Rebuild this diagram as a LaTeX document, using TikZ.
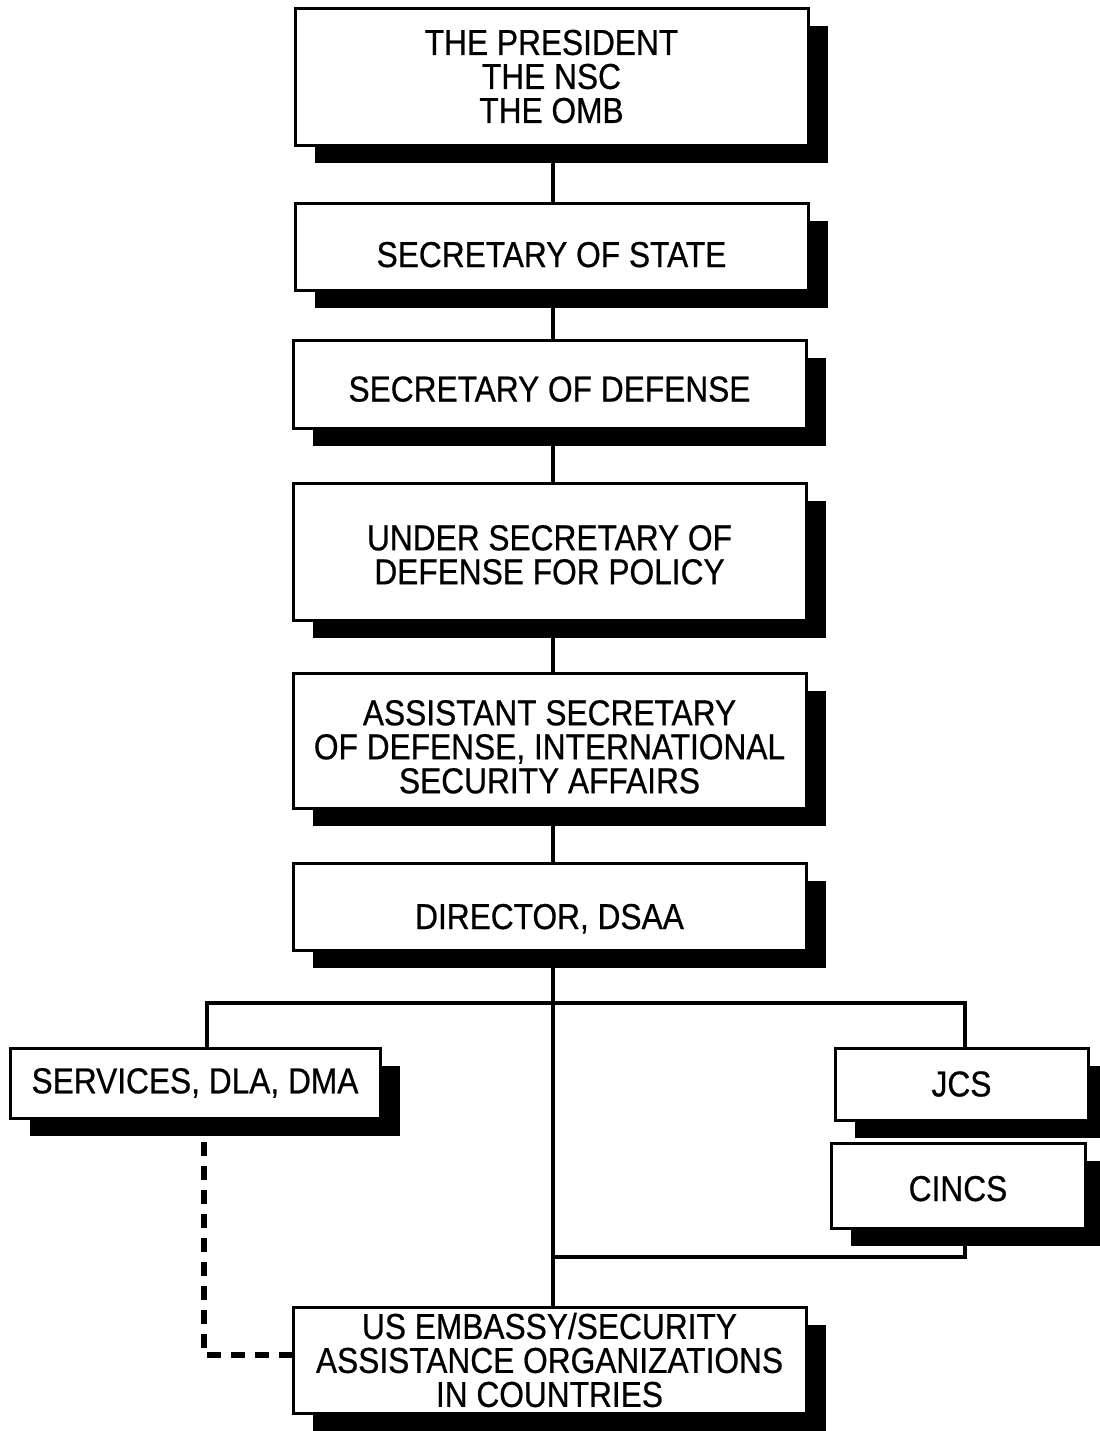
\documentclass[tikz,border=0pt]{standalone}
\usepackage{fontspec}
\setmainfont{Liberation Sans}[FakeStretch=0.88,FakeBold=0.6]
\usetikzlibrary{shadows}
\tikzset{
  orgbox/.style={draw=black, fill=white, line width=1.5pt, inner sep=0pt, outer sep=0pt,
    align=center, font=\fontsize{18pt}{17pt}\selectfont,
    drop shadow={shadow xshift=10pt, shadow yshift=-9pt, fill=black, opacity=1}},
  conn/.style={line width=2pt, line join=miter},
  dashconn/.style={line width=3pt, dash pattern=on 7pt off 5pt}
}
\begin{document}
\begin{tikzpicture}[x=0.5pt,y=-0.5pt]
\useasboundingbox (0,0) rectangle (1099,1431);
\fill[white] (0,0) rectangle (1099,1431);
\coordinate (spine) at (553,0);
\coordinate (jl) at (207,1003);
\coordinate (jr) at (965,1003);
\coordinate (bot) at (553,1257);
\coordinate (dk) at (204,1355);

\node[orgbox, minimum width=256.5pt, minimum height=68.5pt] (b1) at (551.5,76.5) {THE PRESIDENT\\THE NSC\\THE OMB};
\node[orgbox, minimum width=256.5pt, minimum height=43.5pt, text height=20.5pt, text depth=0pt] (b2) at (551.5,246.5) {SECRETARY OF STATE};
\node[orgbox, minimum width=256.5pt, minimum height=44pt, text height=17.5pt, text depth=0pt] (b3) at (549.5,384) {SECRETARY OF DEFENSE};
\node[orgbox, minimum width=256.5pt, minimum height=68.5pt] (b4) at (549.5,551.5) {\rule{0pt}{15.9pt}UNDER SECRETARY OF\\DEFENSE FOR POLICY};
\node[orgbox, minimum width=256.5pt, minimum height=67.5pt] (b5) at (549.5,740.5) {\rule{0pt}{18.9pt}ASSISTANT SECRETARY\\OF DEFENSE, INTERNATIONAL\\SECURITY AFFAIRS};
\node[orgbox, minimum width=256.5pt, minimum height=43.5pt, text height=22.5pt, text depth=0pt] (b6) at (549.5,906.5) {DIRECTOR, DSAA};
\node[orgbox, minimum width=185pt, minimum height=35pt] (svc) at (195,1083) {SERVICES, DLA, DMA};
\node[orgbox, minimum width=126.5pt, minimum height=36pt] (jcs) at (961.5,1084) {JCS};
\node[orgbox, minimum width=127pt, minimum height=42.5pt, text height=15.5pt, text depth=0pt] (cincs) at (958,1185.5) {CINCS};
\node[orgbox, minimum width=256.5pt, minimum height=53pt] (emb) at (549.5,1360) {US EMBASSY/SECURITY\\ASSISTANCE ORGANIZATIONS\\IN COUNTRIES};

\draw[conn] (b1.south -| spine) -- (b2.north -| spine);
\draw[conn] (b2.south -| spine) -- (b3.north -| spine);
\draw[conn] (b3.south -| spine) -- (b4.north -| spine);
\draw[conn] (b4.south -| spine) -- (b5.north -| spine);
\draw[conn] (b5.south -| spine) -- (b6.north -| spine);
\draw[conn] (b6.south -| spine) -- (emb.north -| spine);
\draw[conn] (svc.north -| jl) -- (jl) -- (jr) -- (jcs.north -| jr);
\draw[conn] (cincs.south -| jr) -- (jr |- bot) -- (bot);
\draw[dashconn] (svc.south -| dk) -- (dk) -- (dk -| emb.west);
\end{tikzpicture}
\end{document}
